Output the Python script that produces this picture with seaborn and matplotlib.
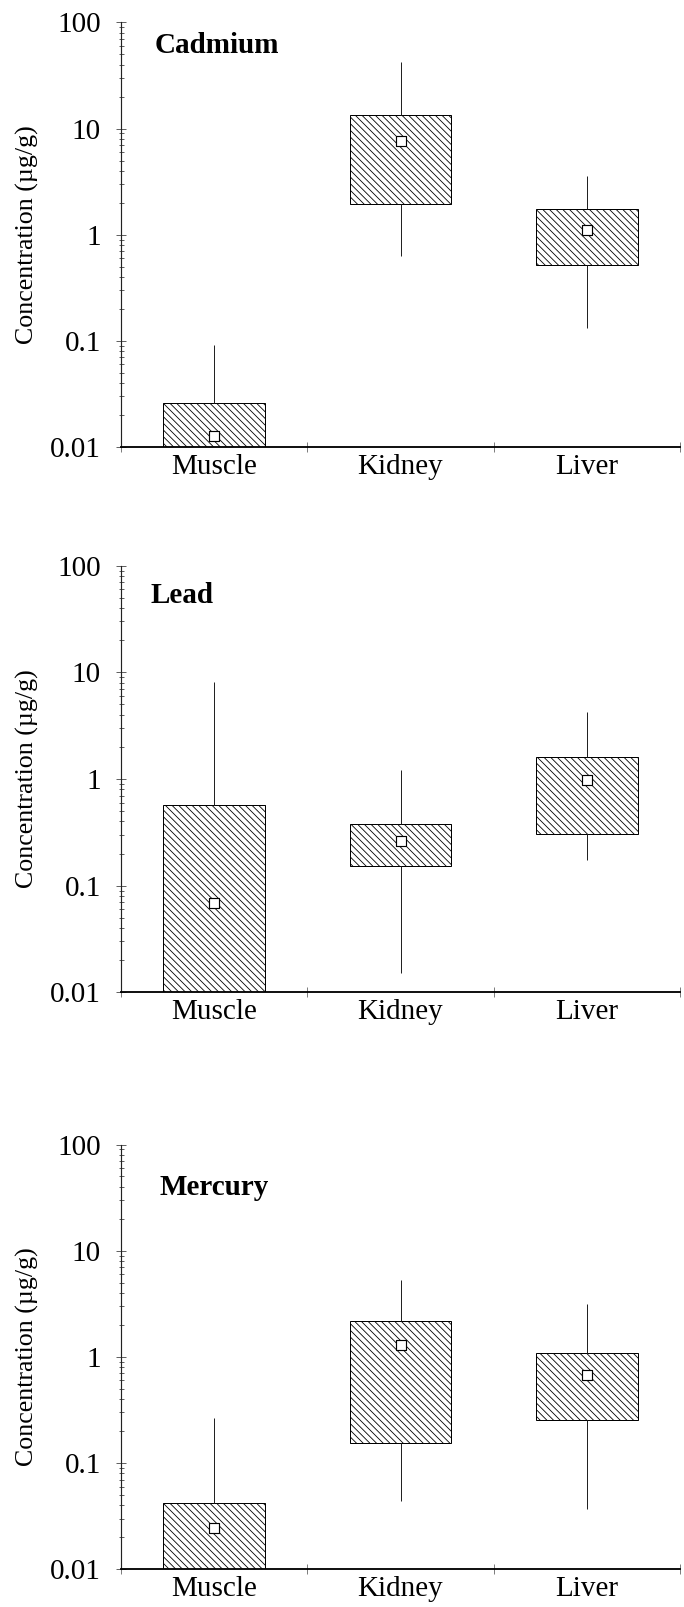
import numpy as np
import pandas as pd
import seaborn as sns
import matplotlib
matplotlib.use('Agg')
from matplotlib import pyplot as plt
from matplotlib.ticker import FixedLocator, NullFormatter, LogLocator

tissues = ['Muscle', 'Kidney', 'Liver']
metals = ['Cadmium', 'Lead', 'Mercury']

# whisker low / lower box edge / median / upper box edge / whisker high
# (muscle lows sit below the 0.01 axis and are clipped)
cd_low = [0.002, 0.635, 0.133]
cd_q1 = [0.005, 1.94, 0.52]
cd_med = [0.0128, 7.66, 1.11]
cd_q3 = [0.0261, 13.3, 1.73]
cd_high = [0.092, 42.4, 3.59]

pb_low = [0.002, 0.0153, 0.175]
pb_q1 = [0.005, 0.152, 0.303]
pb_med = [0.0683, 0.261, 0.97]
pb_q3 = [0.567, 0.379, 1.61]
pb_high = [8.06, 1.21, 4.25]

hg_low = [0.002, 0.0439, 0.0372]
hg_q1 = [0.005, 0.155, 0.252]
hg_med = [0.0243, 1.30, 0.675]
hg_q3 = [0.0417, 2.2, 1.08]
hg_high = [0.264, 5.3, 3.12]

ytick_vals = [0.01, 0.1, 1, 10, 100]
ytick_labels = ['0.01', '0.1', '1', '10', '100']


def long_df(*cols):
    # five points per tissue -> boxplot quartiles/whiskers land exactly on them
    rows = []
    for col in cols:
        for t, v in zip(tissues, col):
            rows.append({'tissue': t, 'value': v})
    return pd.DataFrame(rows)


panels = [
    (long_df(cd_low, cd_q1, cd_med, cd_q3, cd_high), cd_med),
    (long_df(pb_low, pb_q1, pb_med, pb_q3, pb_high), pb_med),
    (long_df(hg_low, hg_q1, hg_med, hg_q3, hg_high), hg_med),
]

sns.set_style('white')
plt.rcParams['font.family'] = ['Liberation Serif', 'DejaVu Serif']
plt.rcParams['text.color'] = 'black'
plt.rcParams['axes.labelcolor'] = 'black'
plt.rcParams['xtick.labelcolor'] = 'black'
plt.rcParams['ytick.labelcolor'] = 'black'
plt.rcParams['hatch.linewidth'] = 0.5
plt.rcParams['hatch.color'] = 'black'

fig = plt.figure(figsize=(684 / 120, 1607 / 120), dpi=120)
positions = [
    [0.1769, 0.72184, 0.8173, 0.26416],
    [0.1769, 0.38251, 0.8173, 0.26546],
    [0.1769, 0.02346, 0.8173, 0.26434],
]
title_pos = [(0.0608, 0.929), (0.052, 0.913), (0.0685, 0.881)]

for pos, (df, med), metal, tpos in zip(positions, panels, metals, title_pos):
    ax = fig.add_axes(pos)
    sns.boxplot(data=df, x='tissue', y='value', order=tissues, whis=(0, 100),
                width=0.545, showcaps=False, linecolor='black', linewidth=0.6,
                fliersize=0, log_scale=True,
                boxprops=dict(facecolor='white', hatch='\\\\\\\\\\\\'),
                whiskerprops=dict(color='#222222', linewidth=0.6),
                medianprops=dict(linewidth=0), ax=ax)
    sns.stripplot(x=tissues, y=med, order=tissues, jitter=False, marker='s',
                  size=6, color='white', edgecolor='black', linewidth=0.7,
                  zorder=5, ax=ax)

    ax.set_ylim(0.01, 100)
    ax.set_xlim(-0.5, 2.5)
    ax.set_yticks(ytick_vals)
    ax.set_yticklabels(ytick_labels)
    ax.yaxis.set_minor_locator(LogLocator(base=10, subs=np.arange(2, 10)))
    ax.yaxis.set_minor_formatter(NullFormatter())
    ax.set_xticks([0, 1, 2])
    ax.set_xticklabels(tissues)
    ax.xaxis.set_minor_locator(FixedLocator([-0.5, 0.5, 1.5, 2.5]))

    ax.tick_params(axis='x', which='both', bottom=True, top=False)
    ax.tick_params(axis='y', which='both', left=True, right=False)
    ax.tick_params(axis='x', which='major', length=0, pad=4, labelsize=17.5,
                   labelcolor='black')
    ax.tick_params(axis='x', which='minor', length=6, direction='inout',
                   width=0.5, color='#666666')
    ax.tick_params(axis='y', which='major', length=6, direction='inout',
                   width=0.5, color='#444444', pad=9, labelsize=17.5,
                   labelcolor='black')
    ax.tick_params(axis='y', which='minor', length=3, direction='inout',
                   width=0.5, color='#444444')

    sns.despine(ax=ax)
    ax.spines['left'].set_linewidth(0.7)
    ax.spines['bottom'].set_linewidth(1.1)
    ax.spines['bottom'].set_color('black')
    ax.spines['left'].set_color('#222222')

    ax.set_xlabel('')
    ax.set_ylabel('Concentration (µg/g)', fontsize=15.5, color='black')
    ax.yaxis.set_label_coords(-0.147, 0.5)
    ax.text(tpos[0], tpos[1], metal, transform=ax.transAxes, fontsize=17.5,
            fontweight='bold', va='baseline', ha='left', color='black')

fig.savefig('out.png', dpi=120)
